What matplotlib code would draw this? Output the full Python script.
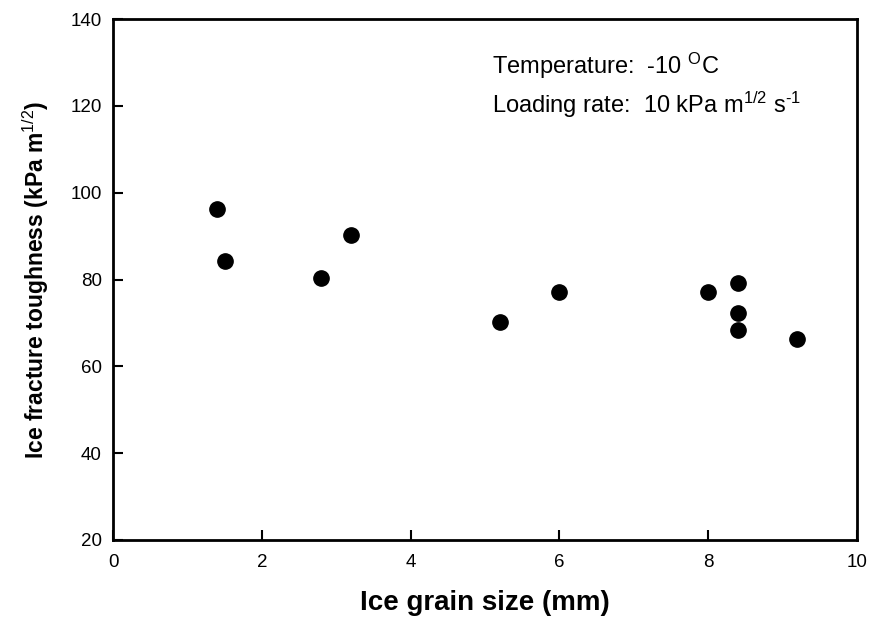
import matplotlib
matplotlib.use('Agg')
import matplotlib.pyplot as plt

# grain size (mm) and fracture toughness (kPa m^1/2)
grain_size = [1.4, 1.5, 2.8, 3.2, 5.2, 6.0, 8.0, 8.4, 8.4, 8.4, 9.2]
toughness = [96.3, 84.3, 80.3, 90.2, 70.3, 77.2, 77.2, 79.2, 72.2, 68.3, 66.2]

plt.rcParams['font.family'] = 'Liberation Sans'
plt.rcParams['mathtext.fontset'] = 'custom'
plt.rcParams['mathtext.rm'] = 'Liberation Sans'
plt.rcParams['mathtext.it'] = 'Liberation Sans'
plt.rcParams['mathtext.bf'] = 'Liberation Sans:bold'

fig = plt.figure(figsize=(8.72, 6.26), dpi=100)
ax = fig.add_axes([0.1296, 0.1374, 0.8532, 0.8322])

ax.plot(grain_size, toughness, 'o', color='black', markersize=11)

ax.set_xlim(0, 10)
ax.set_ylim(20, 140)
ax.set_xticks([0, 2, 4, 6, 8, 10])
ax.set_yticks([20, 40, 60, 80, 100, 120, 140])
ax.tick_params(direction='in', length=7, width=1.5, labelsize=13.5)
ax.tick_params(axis='x', pad=10)
ax.tick_params(axis='y', pad=8)
for s in ax.spines.values():
    s.set_linewidth(2)

ax.set_xlabel('Ice grain size (mm)', fontsize=20, fontweight='bold', labelpad=14)
ax.set_ylabel(r'Ice fracture toughness (kPa m$^{\rm 1/2}$)', fontsize=16.5,
              fontweight='bold', labelpad=14)

ax.text(0.51, 0.894, r'Temperature:  -10 $^{\rm O}$C', transform=ax.transAxes,
        fontsize=17, va='baseline')
ax.text(0.51, 0.8196, r'Loading rate:  10 kPa m$^{\rm 1/2}$ s$^{\text{-1}}$', transform=ax.transAxes,
        fontsize=17, va='baseline')

fig.savefig('out.png', dpi=100)
